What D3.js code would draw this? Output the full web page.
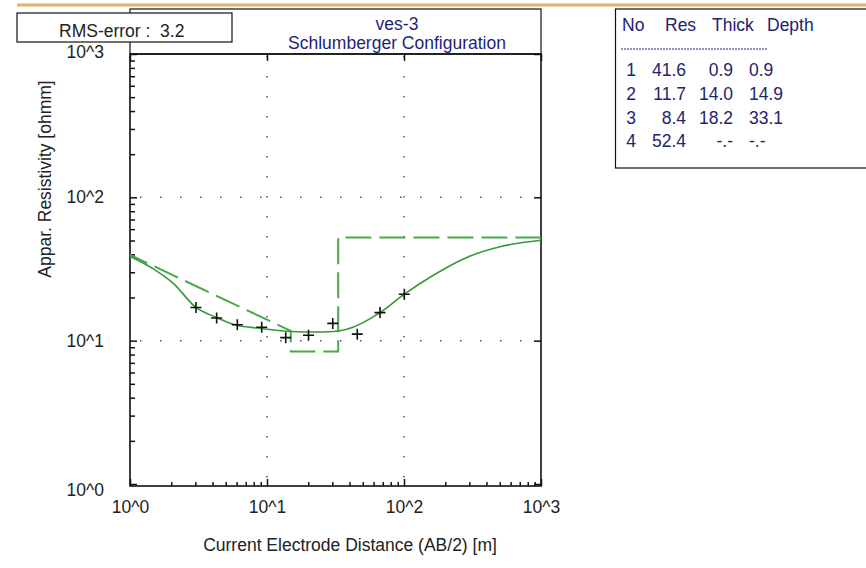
<!DOCTYPE html>
<html><head><meta charset="utf-8">
<script src="https://cdn.jsdelivr.net/npm/d3@7"></script>
<style>
html,body{margin:0;padding:0;background:#fff;}
svg{display:block;font-family:"Liberation Sans",Arial,sans-serif;}
</style></head>
<body>
<svg id="chart" width="866" height="568"></svg>
<script>
// ---- data ----
const abHalf = [3.03, 4.29, 6.07, 9.15, 13.7, 20.1, 30.2, 45.6, 66.8, 100.5];
const rhoObs = [17.05, 14.4, 12.9, 12.4, 10.5, 10.9, 13.2, 11.1, 15.7, 21.1];
const curveAB  = [1, 1.48, 2.07, 3.03, 4.29, 6.01, 8.89, 15.1, 22, 30.5, 38.2, 66.8, 100.5, 163.6, 287, 502, 1000];
const curveRho = [38.8, 31.7, 25.1, 17.05, 14.5, 12.8, 12.2, 11.6, 11.5, 11.6, 12.0, 15.7, 21.1, 28.6, 38.1, 45.2, 50.2];
const layerNo = ["1", "2", "3", "4"];
const layerRes = [41.6, 11.7, 8.4, 52.4];
const layerThick = ["0.9", "14.0", "18.2", "-.-"];
const layerDepth = ["0.9", "14.9", "33.1", "-.-"];
const layerDepthVal = [0.9, 14.9, 33.1];
const tickVals = [1, 10, 100, 1000];
const tickLabels = ["10^0", "10^1", "10^2", "10^3"];
const titleLines = ["ves-3", "Schlumberger Configuration"];
const rmsText = "RMS-error :  3.2";
const xTitle = "Current Electrode Distance (AB/2) [m]";
const yTitle = "Appar. Resistivity [ohmm]";
const tableHeader = ["No", "Res", "Thick", "Depth"];

// ---- layout ----
const FS = 17.5;
const L = 130, R = 541, T = 54, B = 486;
const svg = d3.select("#chart");
const x = d3.scaleLog().domain([1, 1000]).range([L, R]);
const y = d3.scaleLog().domain([1, 1000]).range([484, T]);

// top decorative line
svg.append("line").attr("x1", 17).attr("x2", 866).attr("y1", 5).attr("y2", 5)
  .attr("stroke", "#dcb66c").attr("stroke-width", 3);

// title box
svg.append("rect").attr("x", L).attr("y", 9).attr("width", R - L).attr("height", T - 9)
  .attr("fill", "#fff").attr("stroke", "#111").attr("stroke-width", 1.2);
svg.append("text").attr("x", 397).attr("y", 30).attr("text-anchor", "middle")
  .attr("font-size", FS).attr("fill", "#1f1f7a").text(titleLines[0]);
svg.append("text").attr("x", 397).attr("y", 49).attr("text-anchor", "middle")
  .attr("font-size", FS).attr("fill", "#1f1f7a").text(titleLines[1]);

// clip
svg.append("defs").append("clipPath").attr("id", "clip")
  .append("rect").attr("x", L).attr("y", T).attr("width", R - L).attr("height", B - T);

// grid
const grid = svg.append("g");
[10, 100].forEach(v => {
  grid.append("line").attr("x1", x(v)).attr("x2", x(v)).attr("y1", T + 2).attr("y2", B)
    .attr("stroke", "#555").attr("stroke-width", 1.5).attr("stroke-dasharray", "1.5,18.5");
  grid.append("line").attr("y1", y(v)).attr("y2", y(v)).attr("x1", L + 10).attr("x2", R)
    .attr("stroke", "#555").attr("stroke-width", 1.5).attr("stroke-dasharray", "1.5,18.5");
});

// minor ticks
const minors = [];
[1, 10, 100].forEach(d => { for (let k = 2; k <= 9; k++) minors.push(d * k); });

const fmt = v => tickLabels[tickVals.indexOf(v)];

const axB = svg.append("g").attr("transform", `translate(0,${B})`)
  .call(d3.axisBottom(x).tickValues(tickVals).tickFormat(fmt).tickSize(-7).tickPadding(15));
const axBm = svg.append("g").attr("transform", `translate(0,${B})`)
  .call(d3.axisBottom(x).tickValues(minors).tickFormat("").tickSize(-4));
const axT = svg.append("g").attr("transform", `translate(0,${T})`)
  .call(d3.axisTop(x).tickValues(tickVals).tickFormat("").tickSize(-7));
const axL = svg.append("g").attr("transform", `translate(${L},0)`)
  .call(d3.axisLeft(y).tickValues(tickVals).tickFormat(fmt).tickSize(-7).tickPadding(26));
const axLm = svg.append("g").attr("transform", `translate(${L},0)`)
  .call(d3.axisLeft(y).tickValues(minors).tickFormat("").tickSize(-5));
const axR = svg.append("g").attr("transform", `translate(${R},0)`)
  .call(d3.axisRight(y).tickValues(tickVals).tickFormat("").tickSize(-7));
[axB, axBm, axT, axL, axLm, axR].forEach(g => {
  g.select(".domain").remove();
  g.selectAll(".tick line").attr("stroke", "#111").attr("stroke-width", 1.5);
  g.selectAll(".tick text").attr("font-size", FS).attr("fill", "#222")
   .attr("font-family", "Liberation Sans, Arial, sans-serif");
});
// nudge outer y labels (as in the original layout)
axL.selectAll(".tick text").attr("dy", d => d === 1000 ? "0.22em" : d === 1 ? "0.65em" : "0.32em");

// frame
svg.append("rect").attr("x", L).attr("y", T).attr("width", R - L).attr("height", B - T)
  .attr("fill", "none").attr("stroke", "#111").attr("stroke-width", 1.6);

// model (dashed step)
const modelPts = [
  [layerDepthVal[0], layerRes[0]],
  [layerDepthVal[1], layerRes[1]],
  [layerDepthVal[1], layerRes[2]],
  [layerDepthVal[2], layerRes[2]],
  [layerDepthVal[2], layerRes[3]],
  [1000, layerRes[3]]
];
const plot = svg.append("g").attr("clip-path", "url(#clip)");
plot.append("path").datum(modelPts)
  .attr("d", d3.line().x(d => x(d[0])).y(d => y(d[1])))
  .attr("fill", "none").attr("stroke", "#4aa84a").attr("stroke-width", 2)
  .attr("stroke-dasharray", "26,8");

// calculated curve
const curvePts = curveAB.map((a, i) => [a, curveRho[i]]);
plot.append("path").datum(curvePts)
  .attr("d", d3.line().x(d => x(d[0])).y(d => y(d[1])).curve(d3.curveMonotoneX))
  .attr("fill", "none").attr("stroke", "#3a963a").attr("stroke-width", 1.6);

// observed crosses
const obs = abHalf.map((a, i) => [a, rhoObs[i]]);
plot.selectAll("path.obs").data(obs).enter().append("path").attr("class", "obs")
  .attr("d", d => { const px = x(d[0]), py = y(d[1]);
    return `M${px - 5.5},${py}H${px + 5.5}M${px},${py - 5.5}V${py + 5.5}`; })
  .attr("stroke", "#111").attr("stroke-width", 1.6).attr("fill", "none");

// RMS box (over title box)
svg.append("rect").attr("x", 17).attr("y", 13).attr("width", 215).attr("height", 29)
  .attr("fill", "#fff").attr("stroke", "#111").attr("stroke-width", 1.2);
svg.append("text").attr("x", 59).attr("y", 36.5).attr("font-size", FS).attr("fill", "#222")
  .attr("xml:space", "preserve").style("white-space", "pre").text(rmsText);

// axis titles
svg.append("text").attr("x", 350).attr("y", 551).attr("text-anchor", "middle")
  .attr("font-size", FS).attr("fill", "#222").text(xTitle);
svg.append("text").attr("transform", "translate(51,179) rotate(-90)").attr("text-anchor", "middle")
  .attr("font-size", FS).attr("fill", "#222").text(yTitle);

// layer table
const tb = svg.append("g");
tb.append("rect").attr("x", 615.5).attr("y", 9).attr("width", 260).attr("height", 159)
  .attr("fill", "#fff").attr("stroke", "#111").attr("stroke-width", 1.2);
const tc = "#23236e";
const hdrX = [622, 665, 712, 767];
tb.selectAll("text.h").data(tableHeader).enter().append("text").attr("class", "h")
  .attr("x", (d, i) => hdrX[i]).attr("y", 31).attr("font-size", FS).attr("fill", tc).text(d => d);
tb.append("line").attr("x1", 621).attr("x2", 768).attr("y1", 49).attr("y2", 49)
  .attr("stroke", tc).attr("stroke-width", 1).attr("stroke-dasharray", "2,1");
const rowY = i => 76 + i * 23.8;
layerNo.forEach((n, i) => {
  tb.append("text").attr("x", 631).attr("y", rowY(i)).attr("text-anchor", "middle")
    .attr("font-size", FS).attr("fill", tc).text(n);
  tb.append("text").attr("x", 686).attr("y", rowY(i)).attr("text-anchor", "end")
    .attr("font-size", FS).attr("fill", tc).text(layerRes[i].toFixed(1));
  tb.append("text").attr("x", 733).attr("y", rowY(i)).attr("text-anchor", "end")
    .attr("font-size", FS).attr("fill", tc).text(layerThick[i]);
  tb.append("text").attr("x", 749).attr("y", rowY(i)).attr("text-anchor", "start")
    .attr("font-size", FS).attr("fill", tc).text(layerDepth[i]);
});
</script>
</body></html>
